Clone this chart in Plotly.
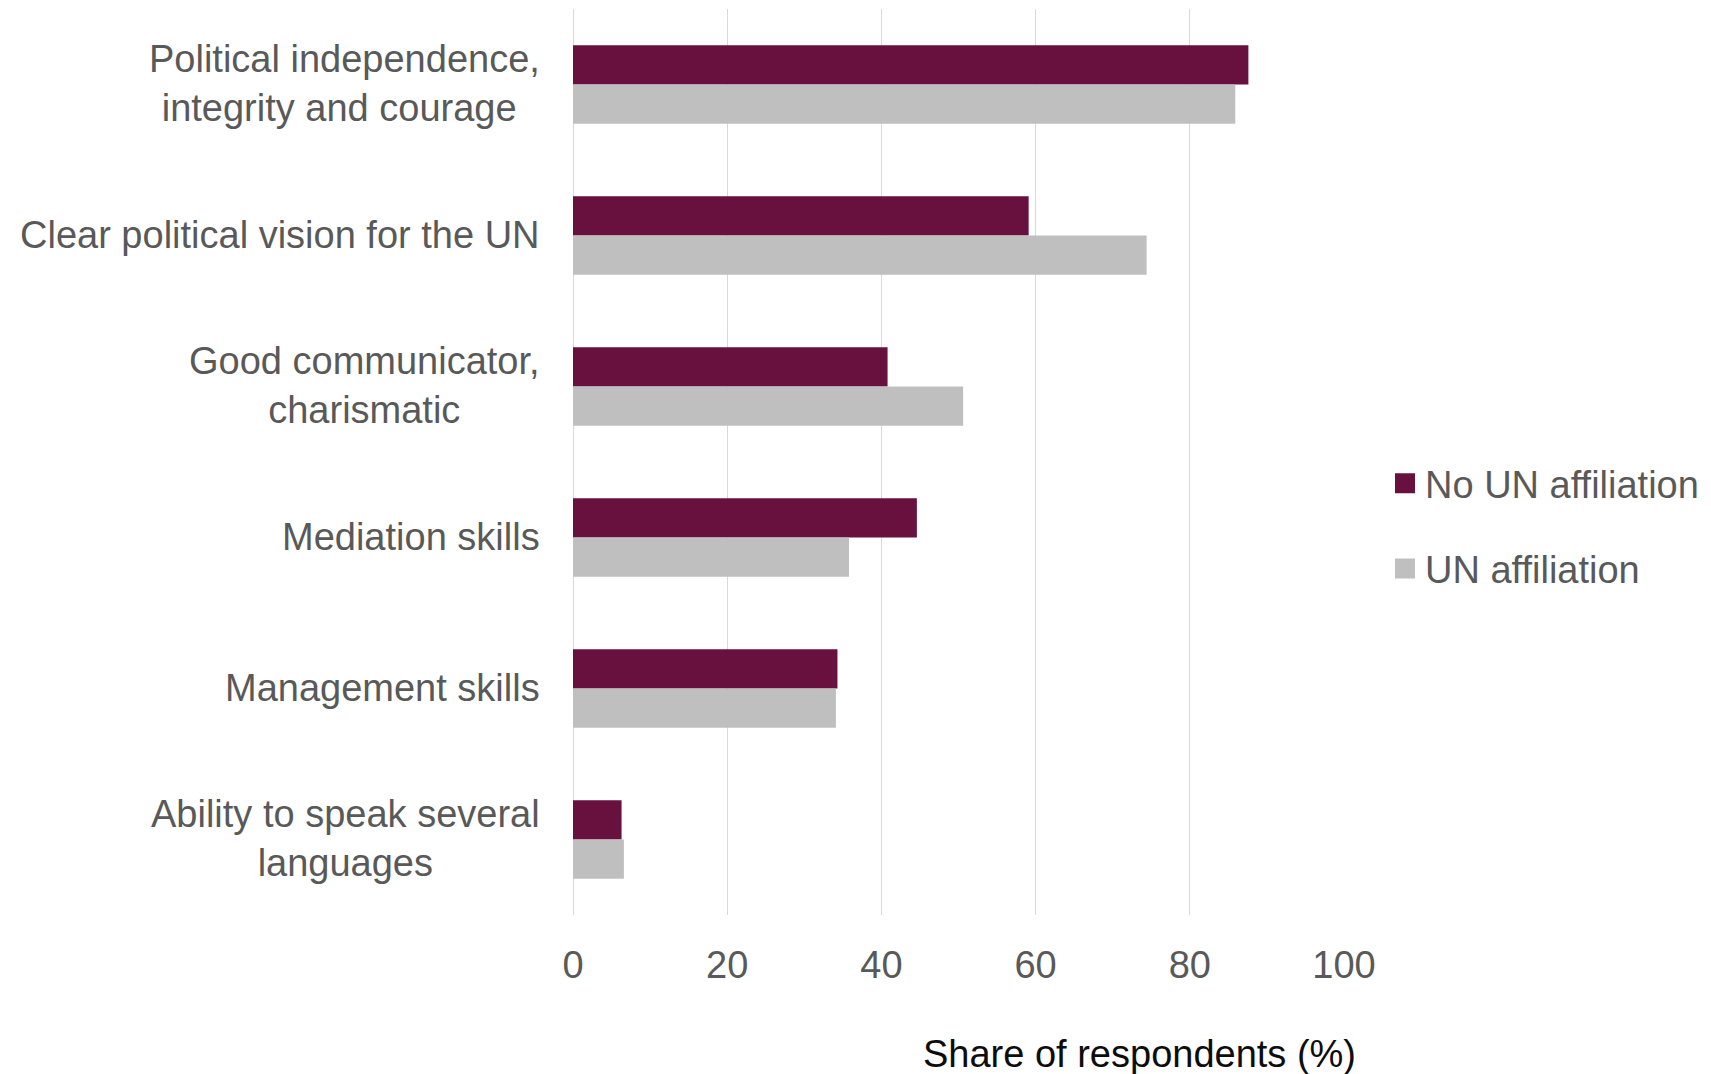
import plotly.graph_objects as go

categories = [
    "Political independence,<br>integrity and courage ",
    "Clear political vision for the UN",
    "Good communicator,<br>charismatic",
    "Mediation skills",
    "Management skills",
    "Ability to speak several<br>languages",
]
no_un = [87.6, 59.1, 40.8, 44.6, 34.3, 6.3]
un = [85.9, 74.4, 50.6, 35.8, 34.1, 6.6]
x_ticks = [0, 20, 40, 60, 80, 100]

MAROON = "#68103E"
GREY = "#BFBFBF"
TXT = "#595959"
FONT = "Liberation Sans, Arial, sans-serif"

W, H = 1703, 1066
L, T = 565, 1
PW, PH = 771, 906

fig = go.Figure()
fig.add_trace(go.Bar(y=categories, x=no_un, orientation="h", name="No UN affiliation",
                     marker=dict(color=MAROON, line=dict(width=0)), showlegend=False))
fig.add_trace(go.Bar(y=categories, x=un, orientation="h", name="UN affiliation",
                     marker=dict(color=GREY, line=dict(width=0)), showlegend=False))
# legend entries with square symbols
fig.add_trace(go.Scatter(x=[None], y=[None], mode="markers", name="No UN affiliation",
                         marker=dict(symbol="square", size=16, color=MAROON,
                                     line=dict(width=4, color=MAROON)), legendgroup="a"))
fig.add_trace(go.Scatter(x=[None], y=[None], mode="markers", name="UN affiliation",
                         marker=dict(symbol="square", size=16, color=GREY,
                                     line=dict(width=4, color=GREY)), legendgroup="b"))

for c in categories:
    fig.add_annotation(x=0, xref="paper", y=c, yref="y", text=c, showarrow=False,
                       xanchor="right", xshift=-31, yshift=1, align="center",
                       font=dict(family=FONT, size=38, color=TXT))

fig.add_annotation(x=(1131 - L) / PW, xref="paper", y=1 - (1046 - T) / PH, yref="paper",
                   text="Share of respondents (%)",
                   showarrow=False, xanchor="center", yanchor="middle",
                   font=dict(family=FONT, size=38, color="#0d0d0d"))

fig.update_layout(
    width=W, height=H,
    margin=dict(l=L, r=W - L - PW, t=T, b=H - T - PH, pad=0),
    paper_bgcolor="white", plot_bgcolor="white",
    barmode="group", bargap=0.48, bargroupgap=0,
    font=dict(family=FONT, size=38, color=TXT),
    showlegend=True,
    legend=dict(x=(1377 - L) / PW, xanchor="left", y=1 - (518 - T) / PH, yanchor="middle",
                font=dict(family=FONT, size=38, color=TXT), traceorder="grouped",
                tracegroupgap=33, bgcolor="rgba(0,0,0,0)", itemclick=False),
)
fig.update_xaxes(range=[0, 100], tickvals=x_ticks, ticktext=[str(v) for v in x_ticks],
                 showgrid=True, gridcolor="#D9D9D9", gridwidth=1, zeroline=True,
                 zerolinecolor="#D9D9D9", zerolinewidth=1, showline=False,
                 ticks="outside", ticklen=16, tickcolor="rgba(0,0,0,0)",
                 tickfont=dict(family=FONT, size=38, color=TXT), fixedrange=True)
fig.update_yaxes(categoryorder="array", categoryarray=categories, autorange="reversed",
                 showticklabels=False, showgrid=False, zeroline=False, showline=False,
                 fixedrange=True)

fig.write_html("out.html")
